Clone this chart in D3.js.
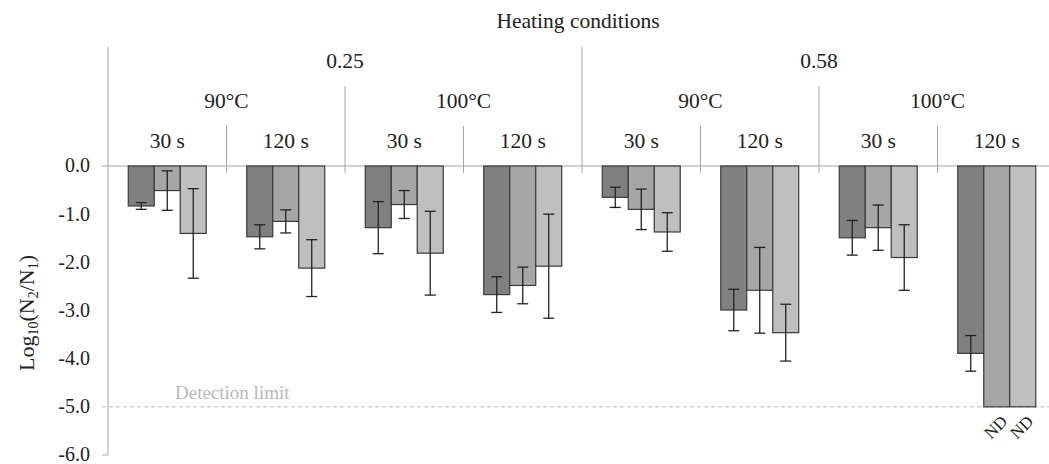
<!DOCTYPE html>
<html><head><meta charset="utf-8">
<script src="https://cdn.jsdelivr.net/npm/d3@7"></script>
<style>
html,body{margin:0;padding:0;background:#fff;}
svg text{font-family:"Liberation Serif","DejaVu Serif","Times New Roman",serif;}
</style></head>
<body><svg id="c" width="1049" height="464"></svg>
<script>
// ---- data ----
const waterActivity = ["0.25","0.58"];
const temperatures = ["90°C","100°C"];
const times = ["30 s","120 s"];
const groups = ["0.25|90°C|30 s","0.25|90°C|120 s","0.25|100°C|30 s","0.25|100°C|120 s",
                "0.58|90°C|30 s","0.58|90°C|120 s","0.58|100°C|30 s","0.58|100°C|120 s"];
const seriesNames = ["s1","s2","s3"];
const s1Values = [-0.83,-1.47,-1.28,-2.67,-0.65,-2.99,-1.49,-3.89];
const s2Values = [-0.51,-1.15,-0.80,-2.48,-0.90,-2.58,-1.28,-5.0];
const s3Values = [-1.40,-2.12,-1.81,-2.08,-1.37,-3.46,-1.90,-5.0];
const s1Err = [0.07,0.25,0.54,0.37,0.21,0.43,0.36,0.37];
const s2Err = [0.41,0.24,0.29,0.38,0.42,0.89,0.47,null];
const s3Err = [0.93,0.59,0.87,1.08,0.40,0.59,0.68,null];
const ndFlags2 = [false,false,false,false,false,false,false,true];
const ndFlags3 = [false,false,false,false,false,false,false,true];
const yTicks = [0,-1,-2,-3,-4,-5,-6];
const detectionLimit = -5;

const colors = ["#808080","#a6a6a6","#bfbfbf"];
const vals = [s1Values,s2Values,s3Values];
const errs = [s1Err,s2Err,s3Err];
const nds = [[],ndFlags2,ndFlags3];
const FONT = "'Liberation Serif','DejaVu Serif','Times New Roman',serif";

const svg = d3.select("#c");
const x0 = 108, x1 = 1056;
const y = d3.scaleLinear().domain([0,-6]).range([166,455]);
const xg = d3.scaleBand().domain(groups).range([x0,x1]).paddingInner(0).paddingOuter(0);
const xs = d3.scaleBand().domain(seriesNames).range([0,xg.bandwidth()]).paddingOuter(0.78).paddingInner(0);
const gridCol = "#a6a6a6";
const txtCol = "#222";
const HF = 21.5;
function T(sel){ return sel.attr("font-family",FONT); }

// y axis line
svg.append("line").attr("x1",x0).attr("x2",x0).attr("y1",47).attr("y2",y(-6)).attr("stroke",gridCol);
// zero line
svg.append("line").attr("x1",102).attr("x2",1049).attr("y1",y(0)).attr("y2",y(0)).attr("stroke",gridCol);
// bottom tick
svg.append("line").attr("x1",102).attr("x2",x0).attr("y1",y(-6)).attr("y2",y(-6)).attr("stroke",gridCol);
// detection limit
svg.append("line").attr("x1",102).attr("x2",1049).attr("y1",y(detectionLimit)).attr("y2",y(detectionLimit))
  .attr("stroke","#bdbdbd").attr("stroke-dasharray","4,3");
T(svg.append("text")).attr("x",175).attr("y",y(detectionLimit)-8).attr("fill","#b8b8b8")
  .attr("font-size",19).text("Detection limit");

// y tick labels
T(svg.selectAll(".yt").data(yTicks).enter().append("text"))
  .attr("x",90).attr("y",d=>y(d)).attr("dy","0.32em").attr("text-anchor","end")
  .attr("font-size",20).attr("fill",txtCol).text(d=>d3.format(".1f")(d).replace("−","-"));

// y label
const yl = T(svg.append("text")).attr("transform","translate(34,313) rotate(-90)")
  .attr("text-anchor","middle").attr("font-size",22).attr("fill",txtCol);
yl.append("tspan").text("Log");
yl.append("tspan").attr("font-size",14).attr("dy",4).text("10");
yl.append("tspan").attr("dy",-4).text("(N");
yl.append("tspan").attr("font-size",14).attr("dy",4).text("2");
yl.append("tspan").attr("dy",-4).text("/N");
yl.append("tspan").attr("font-size",14).attr("dy",4).text("1");
yl.append("tspan").attr("dy",-4).text(")");

// header
T(svg.append("text")).attr("x",578).attr("y",20).attr("dy","0.35em").attr("text-anchor","middle")
  .attr("font-size",HF).attr("fill",txtCol).text("Heating conditions");
const wTot = xg.bandwidth();
// level-1
waterActivity.forEach((wa,i)=>{
  const cx = x0 + (i*4+2)*wTot;
  T(svg.append("text")).attr("x",cx).attr("y",60).attr("dy","0.35em").attr("text-anchor","middle")
    .attr("font-size",HF).attr("fill",txtCol).text(wa);
  if(i>0) svg.append("line").attr("x1",x0+i*4*wTot).attr("x2",x0+i*4*wTot).attr("y1",47).attr("y2",173).attr("stroke",gridCol);
});
// level-2
for(let i=0;i<4;i++){
  const cx = x0 + (i*2+1)*wTot;
  T(svg.append("text")).attr("x",cx).attr("y",100).attr("dy","0.35em").attr("text-anchor","middle")
    .attr("font-size",HF).attr("fill",txtCol).text(temperatures[i%2]);
  if(i%2===1) svg.append("line").attr("x1",x0+i*2*wTot).attr("x2",x0+i*2*wTot).attr("y1",86).attr("y2",173).attr("stroke",gridCol);
}
// level-3
groups.forEach((g,i)=>{
  T(svg.append("text")).attr("x",xg(g)+wTot/2).attr("y",140).attr("dy","0.35em").attr("text-anchor","middle")
    .attr("font-size",HF).attr("fill",txtCol).text(times[i%2]);
  if(i%2===1) svg.append("line").attr("x1",xg(g)).attr("x2",xg(g)).attr("y1",126).attr("y2",173).attr("stroke",gridCol);
});

// bars
seriesNames.forEach((s,si)=>{
  const gg = svg.append("g");
  groups.forEach((g,i)=>{
    const v = vals[si][i];
    const bx = xg(g)+xs(s);
    gg.append("rect").attr("x",bx).attr("y",y(0)).attr("width",xs.bandwidth()).attr("height",y(v)-y(0))
      .attr("fill",colors[si]).attr("stroke","#3a3a3a").attr("stroke-width",1.2);
  });
});
// error bars
seriesNames.forEach((s,si)=>{
  groups.forEach((g,i)=>{
    const e = errs[si][i];
    if(e==null) return;
    const v = vals[si][i];
    const cx = xg(g)+xs(s)+xs.bandwidth()/2;
    svg.append("line").attr("x1",cx).attr("x2",cx).attr("y1",y(v+e)).attr("y2",y(v-e)).attr("stroke","#222").attr("stroke-width",1.3);
    [v+e,v-e].forEach(t=>svg.append("line").attr("x1",cx-5.5).attr("x2",cx+5.5).attr("y1",y(t)).attr("y2",y(t)).attr("stroke","#222").attr("stroke-width",1.3));
  });
});
// ND labels
seriesNames.forEach((s,si)=>{
  groups.forEach((g,i)=>{
    if(!nds[si][i]) return;
    const cx = xg(g)+xs(s)+xs.bandwidth()/2;
    T(svg.append("text")).attr("transform",`translate(${cx+3},${y(detectionLimit)+7}) rotate(-45)`)
      .attr("text-anchor","end").attr("dy","0.72em").attr("font-size",17).attr("fill",txtCol).text("ND");
  });
});
</script></body></html>
